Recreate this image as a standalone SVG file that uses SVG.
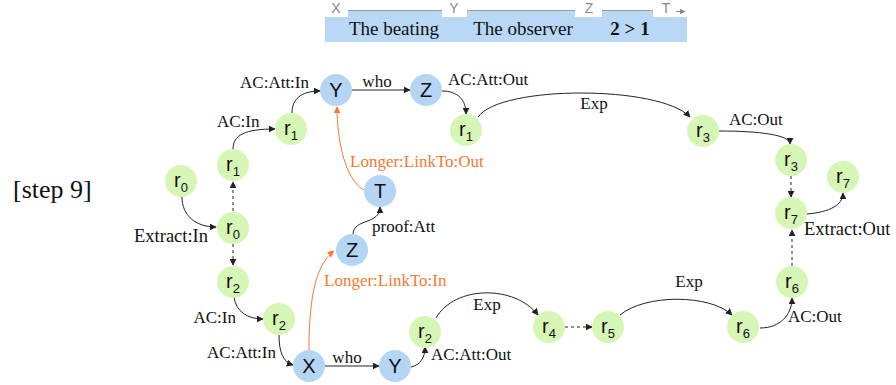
<svg xmlns="http://www.w3.org/2000/svg" width="896" height="385" viewBox="0 0 896 385">
<defs>
<marker id="ah" viewBox="0 0 10 10" refX="9" refY="5" markerWidth="7" markerHeight="7" markerUnits="userSpaceOnUse" orient="auto"><path d="M0,0 L10,5 L0,10 z" fill="#222"/></marker>
<marker id="aho" viewBox="0 0 10 10" refX="9" refY="5" markerWidth="7" markerHeight="7" markerUnits="userSpaceOnUse" orient="auto"><path d="M0,0 L10,5 L0,10 z" fill="#f57a30"/></marker>
<marker id="ahg" viewBox="0 0 10 10" refX="9" refY="5" markerWidth="6" markerHeight="6" markerUnits="userSpaceOnUse" orient="auto"><path d="M0,0 L10,5 L0,10 z" fill="#888"/></marker>
</defs>
<style>
.e{fill:none;stroke:#222;stroke-width:1;marker-end:url(#ah)}
.d{stroke-dasharray:3,3}
.o{fill:none;stroke:#f57a30;stroke-width:1;marker-end:url(#aho)}
.lb{font-family:"Liberation Serif",serif;font-size:17px;fill:#111}
.lx{font-size:18.5px}
.lo{font-family:"Liberation Serif",serif;font-size:17px;fill:#f57a30}
.g{fill:#d6f6b6}
.b{fill:#b5d5f4}
.nt{font-family:"Liberation Sans",Arial,sans-serif;font-size:20px;fill:#111;text-anchor:middle}
.sb{font-size:13px}
.bar{fill:#b9d8f5}
.tl{font-family:"Liberation Sans",Arial,sans-serif;font-size:14px;fill:#8a8a8a;text-anchor:middle}
.bt{font-family:"Liberation Serif",serif;font-size:19px;fill:#111;text-anchor:middle}
</style>
<g id="timeline">
<rect class="bar" x="325" y="17" width="362" height="25"/>
<rect class="bar" x="348" y="10" width="94" height="8"/>
<rect class="bar" x="467" y="10" width="108" height="8"/>
<rect class="bar" x="602" y="10" width="51" height="8"/>
<path d="M348,10.5 H442 M467,10.5 H575 M602,10.5 H653" stroke="#999" stroke-width="1" fill="none"/>
<path d="M676,11.5 H685" stroke="#888" stroke-width="1" fill="none" marker-end="url(#ahg)"/>
<text class="tl" x="336" y="13">X</text>
<text class="tl" x="454" y="13">Y</text>
<text class="tl" x="589" y="13">Z</text>
<text class="tl" x="666" y="13">T</text>
<text class="bt" x="394" y="35">The beating</text>
<text class="bt" x="523" y="35">The observer</text>
<text class="bt" x="630" y="35" font-weight="bold">2 &gt; 1</text>
</g>
<text x="13" y="198" font-family="Liberation Serif,serif" font-size="26" fill="#111">[step 9]</text>
<g id="connectors">
<path class="e" d="M182,197 C182,215 195,227 216,227"/>
<path class="e d" d="M233,211 V182"/>
<path class="e d" d="M233,244 V265"/>
<path class="e" d="M233,149 C233,135 245,129 275,129"/>
<path class="e" d="M292,113 C292,100 300,91 320,91"/>
<path class="e" d="M352,90 H410"/>
<path class="e" d="M442,91 C458,91 466,100 466,114"/>
<path class="e" d="M478,117 C500,85 660,85 690,117"/>
<path class="e" d="M719,131 C760,131 790,135 790,144"/>
<path class="e d" d="M791,176 V197"/>
<path class="e" d="M807,214 C830,212 843,205 843,193"/>
<path class="e d" d="M792,266 V230"/>
<path class="e" d="M760,328 C780,328 792,315 792,298"/>
<path class="e" d="M620,315 C645,294 710,294 732,315"/>
<path class="e d" d="M565,327 H592"/>
<path class="e" d="M436,318 C455,285 515,285 538,315"/>
<path class="e" d="M411,367 C420,365 425,358 425,347"/>
<path class="e" d="M325,366 H379"/>
<path class="e" d="M279,335 C279,352 283,362 293,365"/>
<path class="e" d="M234,297 C236,312 248,319 263,319"/>
<path class="o" d="M309,350 C309,300 315,265 334,251"/>
<path class="e" d="M353,234 C354,218 380,225 380,207"/>
<path class="o" d="M364,190 C345,180 337,140 337,107"/>
<text class="lb lx" x="208" y="242" text-anchor="end">Extract:In</text>
<text class="lb" x="217" y="127">AC:In</text>
<text class="lb" x="309" y="88" text-anchor="end">AC:Att:In</text>
<text class="lb" x="377" y="87" text-anchor="middle">who</text>
<text class="lb" x="448" y="85">AC:Att:Out</text>
<text class="lb" x="594" y="109" text-anchor="middle">Exp</text>
<text class="lb" x="729" y="125">AC:Out</text>
<text class="lb lx" x="804" y="235">Extract:Out</text>
<text class="lb" x="788" y="322">AC:Out</text>
<text class="lb" x="689" y="287" text-anchor="middle">Exp</text>
<text class="lb" x="487" y="310" text-anchor="middle">Exp</text>
<text class="lb" x="431" y="360">AC:Att:Out</text>
<text class="lb" x="347" y="363" text-anchor="middle">who</text>
<text class="lb" x="276" y="358" text-anchor="end">AC:Att:In</text>
<text class="lb" x="236" y="323" text-anchor="end">AC:In</text>
<text class="lo" x="324" y="286">Longer:LinkTo:In</text>
<text class="lb" x="372" y="232">proof:Att</text>
<text class="lo" x="350" y="167">Longer:LinkTo:Out</text>
</g>
<g id="r0a"><circle class="g" cx="181" cy="181" r="16"/><text class="nt" x="181" y="187">r<tspan class="sb" dy="5">0</tspan></text></g>
<g id="r0b"><circle class="g" cx="233" cy="228" r="16"/><text class="nt" x="233" y="234">r<tspan class="sb" dy="5">0</tspan></text></g>
<g id="r1a"><circle class="g" cx="233" cy="165" r="16"/><text class="nt" x="233" y="171">r<tspan class="sb" dy="5">1</tspan></text></g>
<g id="r1b"><circle class="g" cx="291" cy="129" r="16"/><text class="nt" x="291" y="135">r<tspan class="sb" dy="5">1</tspan></text></g>
<g id="Ytop"><circle class="b" cx="336" cy="90" r="16"/><text class="nt" x="336" y="97">Y</text></g>
<g id="Ztop"><circle class="b" cx="426" cy="90" r="16"/><text class="nt" x="426" y="97">Z</text></g>
<g id="r1c"><circle class="g" cx="466" cy="130" r="16"/><text class="nt" x="466" y="136">r<tspan class="sb" dy="5">1</tspan></text></g>
<g id="r3a"><circle class="g" cx="703" cy="131" r="16"/><text class="nt" x="703" y="137">r<tspan class="sb" dy="5">3</tspan></text></g>
<g id="r3b"><circle class="g" cx="791" cy="160" r="16"/><text class="nt" x="791" y="166">r<tspan class="sb" dy="5">3</tspan></text></g>
<g id="r7a"><circle class="g" cx="843" cy="177" r="16"/><text class="nt" x="843" y="183">r<tspan class="sb" dy="5">7</tspan></text></g>
<g id="r7b"><circle class="g" cx="791" cy="213" r="16"/><text class="nt" x="791" y="219">r<tspan class="sb" dy="5">7</tspan></text></g>
<g id="r6a"><circle class="g" cx="792" cy="282" r="16"/><text class="nt" x="792" y="288">r<tspan class="sb" dy="5">6</tspan></text></g>
<g id="r6b"><circle class="g" cx="743" cy="327" r="16"/><text class="nt" x="743" y="333">r<tspan class="sb" dy="5">6</tspan></text></g>
<g id="r5"><circle class="g" cx="608" cy="327" r="16"/><text class="nt" x="608" y="333">r<tspan class="sb" dy="5">5</tspan></text></g>
<g id="r4"><circle class="g" cx="549" cy="327" r="16"/><text class="nt" x="549" y="333">r<tspan class="sb" dy="5">4</tspan></text></g>
<g id="r2c"><circle class="g" cx="425" cy="332" r="16"/><text class="nt" x="425" y="338">r<tspan class="sb" dy="5">2</tspan></text></g>
<g id="Ybot"><circle class="b" cx="395" cy="366" r="16"/><text class="nt" x="395" y="373">Y</text></g>
<g id="Xbot"><circle class="b" cx="309" cy="366" r="16"/><text class="nt" x="309" y="373">X</text></g>
<g id="r2b"><circle class="g" cx="279" cy="319" r="16"/><text class="nt" x="279" y="325">r<tspan class="sb" dy="5">2</tspan></text></g>
<g id="r2a"><circle class="g" cx="233" cy="282" r="16"/><text class="nt" x="233" y="288">r<tspan class="sb" dy="5">2</tspan></text></g>
<g id="Zmid"><circle class="b" cx="352" cy="250" r="16"/><text class="nt" x="352" y="257">Z</text></g>
<g id="T"><circle class="b" cx="380" cy="191" r="16"/><text class="nt" x="380" y="198">T</text></g>
</svg>
